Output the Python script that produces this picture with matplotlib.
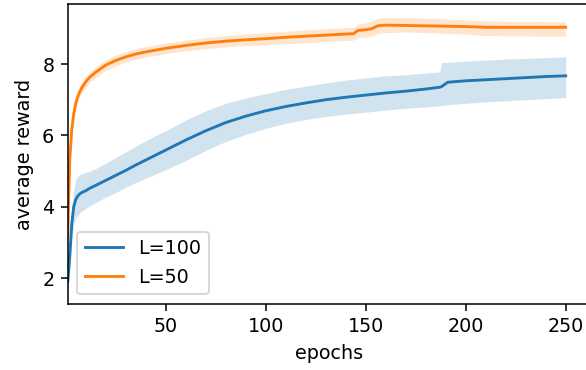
import matplotlib
matplotlib.use("Agg")
import matplotlib.pyplot as plt

# L=100 series: epochs, mean, lower band, upper band
ep_100 = [1, 2, 3, 4, 5, 6, 7, 8, 10, 12, 15, 20, 25, 30, 35, 40, 45, 50, 60, 70, 80,
          90, 100, 110, 120, 130, 140, 150, 160, 170, 180, 187, 188, 191, 200, 210,
          220, 230, 240, 250]
mean_100 = [1.9, 2.6, 3.5, 4.0, 4.2, 4.3, 4.36, 4.4, 4.45, 4.52, 4.6, 4.74, 4.88, 5.02,
            5.17, 5.31, 5.45, 5.59, 5.87, 6.13, 6.36, 6.54, 6.69, 6.81, 6.91, 7.0, 7.07,
            7.13, 7.19, 7.24, 7.3, 7.35, 7.37, 7.49, 7.53, 7.56, 7.59, 7.62, 7.65, 7.67]
lo_100 = [1.66, 2.2, 3.0, 3.5, 3.68, 3.75, 3.83, 3.88, 3.95, 4.03, 4.12, 4.27, 4.4, 4.55,
          4.68, 4.8, 4.92, 5.04, 5.3, 5.58, 5.83, 6.03, 6.2, 6.34, 6.45, 6.53, 6.6, 6.65,
          6.71, 6.76, 6.8, 6.83, 6.84, 6.86, 6.9, 6.94, 6.97, 7.0, 7.03, 7.06]
hi_100 = [2.2, 3.0, 4.0, 4.5, 4.75, 4.85, 4.9, 4.93, 4.97, 5.0, 5.07, 5.22, 5.38, 5.54,
          5.7, 5.85, 6.0, 6.13, 6.43, 6.69, 6.9, 7.05, 7.17, 7.29, 7.38, 7.47, 7.55,
          7.61, 7.67, 7.7, 7.75, 7.78, 8.04, 8.05, 8.08, 8.11, 8.14, 8.16, 8.18, 8.2]

# L=50 series
ep_50 = [1, 2, 3, 4, 5, 6, 7, 8, 10, 12, 15, 20, 25, 30, 35, 40, 45, 50, 60, 70, 80, 90,
         100, 110, 120, 130, 140, 144, 146, 150, 153, 156, 160, 170, 180, 190, 200, 210,
         220, 230, 240, 250]
mean_50 = [3.2, 5.3, 6.15, 6.6, 6.9, 7.08, 7.22, 7.33, 7.5, 7.63, 7.77, 7.97, 8.1, 8.2,
           8.28, 8.34, 8.39, 8.44, 8.52, 8.59, 8.64, 8.68, 8.71, 8.75, 8.78, 8.81, 8.84,
           8.85, 8.94, 8.96, 8.99, 9.07, 9.09, 9.08, 9.07, 9.06, 9.05, 9.03, 9.03, 9.03,
           9.03, 9.03]
lo_50 = [3.05, 5.15, 6.0, 6.45, 6.75, 6.93, 7.07, 7.18, 7.35, 7.48, 7.62, 7.82, 7.95,
         8.05, 8.13, 8.19, 8.24, 8.29, 8.37, 8.43, 8.48, 8.52, 8.54, 8.57, 8.6, 8.63,
         8.66, 8.67, 8.74, 8.76, 8.78, 8.85, 8.88, 8.9, 8.88, 8.86, 8.84, 8.8, 8.79,
         8.79, 8.78, 8.78]
hi_50 = [3.35, 5.45, 6.3, 6.75, 7.05, 7.23, 7.37, 7.48, 7.65, 7.78, 7.92, 8.12, 8.25,
         8.35, 8.43, 8.49, 8.54, 8.59, 8.67, 8.74, 8.8, 8.84, 8.88, 8.92, 8.96, 8.99,
         9.02, 9.03, 9.12, 9.15, 9.2, 9.28, 9.3, 9.3, 9.28, 9.26, 9.24, 9.21, 9.2, 9.2,
         9.19, 9.19]

dpi = 138
fig = plt.figure(figsize=(586 / dpi, 370 / dpi), dpi=dpi)
ax = fig.add_axes([67.7 / 586, 66 / 370, 522.9 / 586, 300 / 370])

ax.plot(ep_100, mean_100, color="C0", label="L=100")
ax.fill_between(ep_100, lo_100, hi_100, color="C0", alpha=0.2, linewidth=0)
ax.plot(ep_50, mean_50, color="C1", label="L=50")
ax.fill_between(ep_50, lo_50, hi_50, color="C1", alpha=0.2, linewidth=0)

ax.set_xlim(left=1)
ax.set_xticks([50, 100, 150, 200, 250])
ax.set_yticks([2, 4, 6, 8])
ax.set_xlabel("epochs")
ax.set_ylabel("average reward")
ax.legend(loc="lower left")

fig.savefig("out.png", dpi=dpi)
